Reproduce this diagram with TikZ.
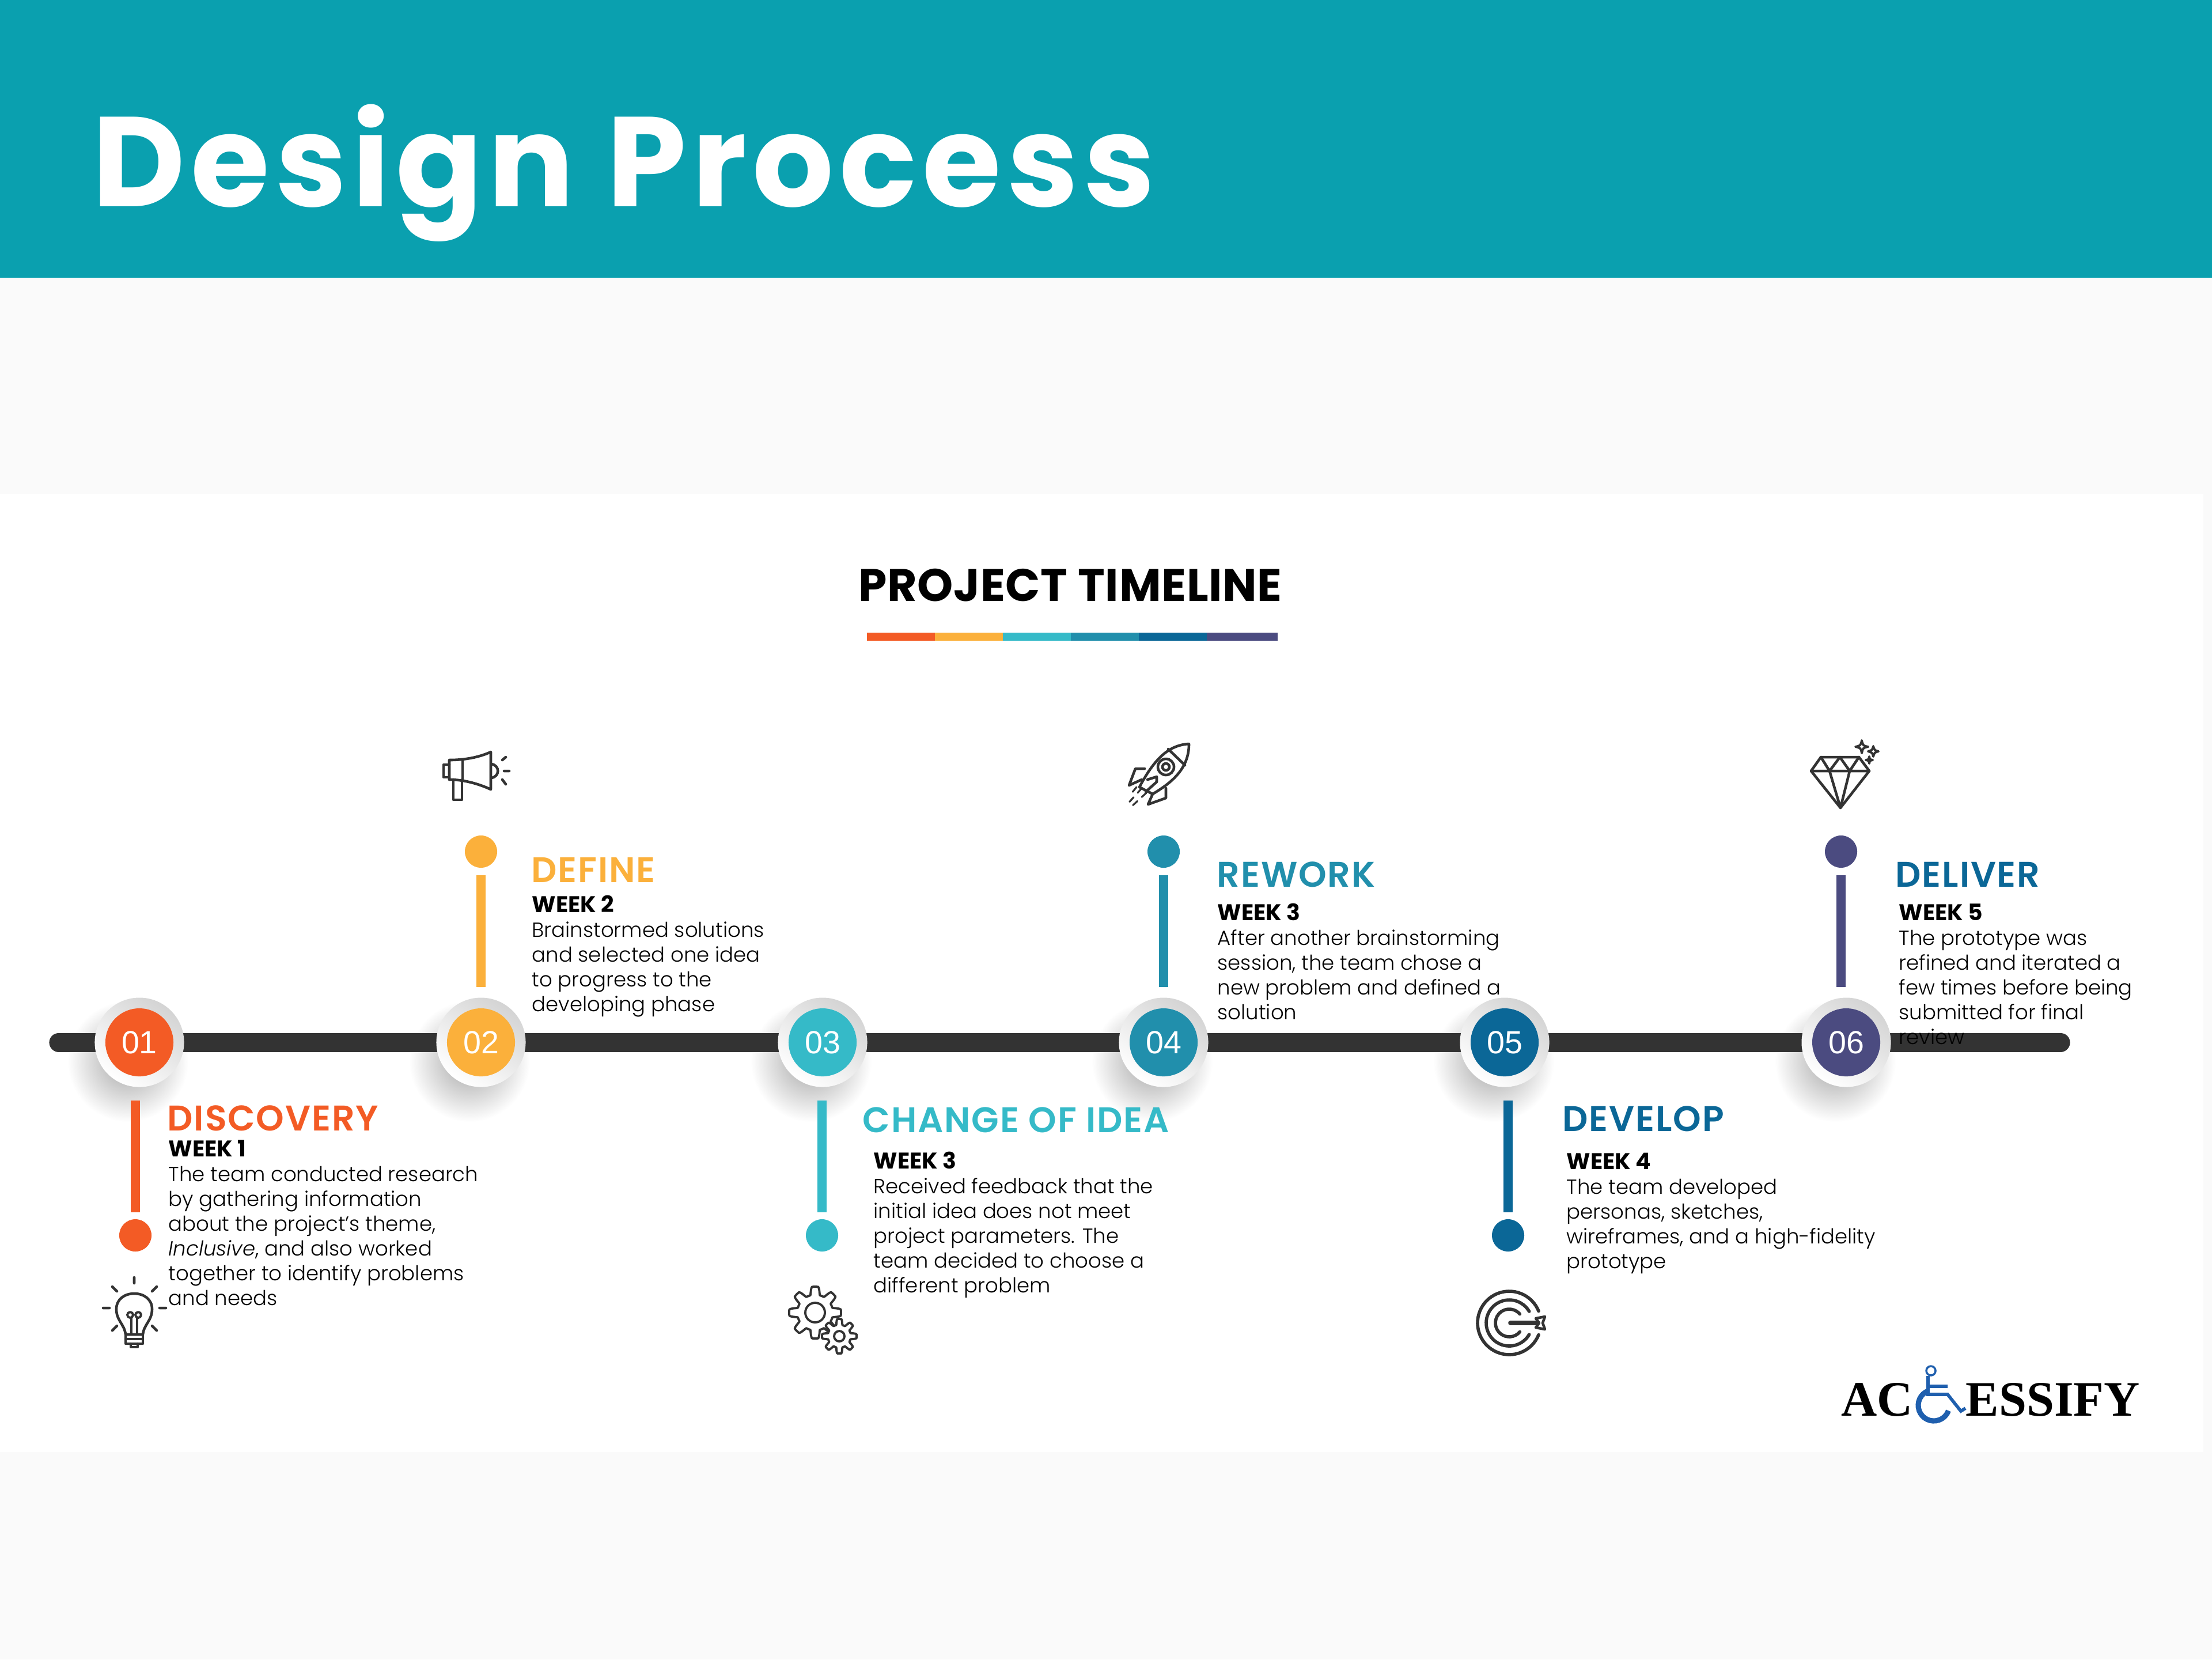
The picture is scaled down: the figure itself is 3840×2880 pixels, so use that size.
\documentclass[tikz,border=0pt]{standalone}
\usepackage{fontspec}
\usepackage{xcolor}
\setmainfont{Poppins Light}[BoldFont={Poppins Bold},ItalicFont={Poppins Light Italic}]
\newfontfamily\headfont{Poppins SemiBold}[LetterSpace=3]
\newfontfamily\titlefont{Poppins Bold}[LetterSpace=4.5]
\newfontfamily\capsfont{Poppins Bold}[LetterSpace=1]
\newfontfamily\armfont{Liberation Sans}
\newfontfamily\logofont{Liberation Serif}
\usetikzlibrary{positioning, calc}

\definecolor{headerteal}{HTML}{0AA0AF}
\definecolor{pagegray}{HTML}{FAFAFA}
\definecolor{railgray}{HTML}{333333}
\definecolor{stepA}{HTML}{F35B25}
\definecolor{stepB}{HTML}{FBB03B}
\definecolor{stepC}{HTML}{35BAC8}
\definecolor{stepD}{HTML}{218FAC}
\definecolor{stepE}{HTML}{0B6797}
\definecolor{stepF}{HTML}{4B4B80}
\definecolor{logoblue}{HTML}{1F5FAE}

\tikzset{
  ring/.style={circle, minimum size=1.55cm, inner sep=0pt, top color=black!17, bottom color=white, shading angle=-35},
  badge/.style={circle, minimum size=1.18cm, inner sep=0pt, text=white, font=\armfont\fontsize{15.8}{17}\selectfont},
  dot/.style={circle, minimum size=0.56cm, inner sep=0pt},
  stem/.style={line width=4.4pt},
  heading/.style={anchor=base west, inner sep=0pt, font=\headfont\fontsize{17.6}{19}\selectfont},
  blurb/.style={anchor=base west, inner sep=0pt, align=left, text=black, font=\fontsize{10.1}{12.23}\selectfont},
  iconline/.style={draw=railgray, line width=1.3pt, line join=round, line cap=round},
  soft/.style={inner color=black!36, outer color=white}
}
\newcommand{\weekline}[1]{\textbf{\fontsize{11.2}{12.23}\selectfont #1}}

\begin{document}
\begin{tikzpicture}[x=0.01cm, y=-0.01cm]

    % Page, header band and white panel
    \fill[pagegray] (0,0) rectangle (3840,2880);
    \fill[headerteal] (0,0) rectangle (3840,482);
    \fill[white] (0,857) rectangle (3825,2520);
    \node[anchor=base west, inner sep=0pt, text=white, font=\titlefont\fontsize{63}{70}\selectfont] (title) at (160,358) {Design Process};

    % Timeline heading with its colour bar
    \node[anchor=base, inner sep=0pt, font=\capsfont\fontsize{22.5}{24}\selectfont] (timeline) at (1858,1043) {PROJECT TIMELINE};
    \fill[stepA] (1505,1098) rectangle (1623,1112);
    \fill[stepB] (1623,1098) rectangle (1741,1112);
    \fill[stepC] (1741,1098) rectangle (1859,1112);
    \fill[stepD] (1859,1098) rectangle (1977,1112);
    \fill[stepE] (1977,1098) rectangle (2095,1112);
    \fill[stepF] (2095,1098) rectangle (2218,1112);

    % Soft shadows under the badges
    \shade[soft] (222,1842) circle (105);
    \shade[soft] (815,1842) circle (105);
    \shade[soft] (1408,1842) circle (105);
    \shade[soft] (2000,1842) circle (105);
    \shade[soft] (2593,1842) circle (105);
    \shade[soft] (3186,1842) circle (105);

    % Main rail
    \coordinate (railL) at (102,1809);
    \coordinate (railR) at (3577,1809);
    \draw[railgray, line width=9.4pt, line cap=round] (railL) -- (railR);

    % Numbered badges on the rail
    \node[ring] (ring1) at (242,1809) {};
    \node[ring] (ring2) at (835,1809) {};
    \node[ring] (ring3) at (1428,1809) {};
    \node[ring] (ring4) at (2020,1809) {};
    \node[ring] (ring5) at (2612,1809) {};
    \node[ring] (ring6) at (3205,1809) {};
    \node[badge, fill=stepA] (badge1) at (ring1) {01};
    \node[badge, fill=stepB] (badge2) at (ring2) {02};
    \node[badge, fill=stepC] (badge3) at (ring3) {03};
    \node[badge, fill=stepD] (badge4) at (ring4) {04};
    \node[badge, fill=stepE] (badge5) at (ring5) {05};
    \node[badge, fill=stepF] (badge6) at (ring6) {06};

    % Stems and their end dots
    \node[dot, fill=stepA] (dot1) at (235,2144) {};
    \node[dot, fill=stepB] (dot2) at (835,1478) {};
    \node[dot, fill=stepC] (dot3) at (1427,2144) {};
    \node[dot, fill=stepD] (dot4) at (2020,1478) {};
    \node[dot, fill=stepE] (dot5) at (2618,2144) {};
    \node[dot, fill=stepF] (dot6) at (3196,1478) {};
    \coordinate (stem1a) at (235,1910);
    \coordinate (stem1b) at (235,2104);
    \coordinate (stem2a) at (835,1519);
    \coordinate (stem2b) at (835,1713);
    \coordinate (stem3a) at (1427,1910);
    \coordinate (stem3b) at (1427,2104);
    \coordinate (stem4a) at (2020,1519);
    \coordinate (stem4b) at (2020,1713);
    \coordinate (stem5a) at (2618,1910);
    \coordinate (stem5b) at (2618,2104);
    \coordinate (stem6a) at (3196,1519);
    \coordinate (stem6b) at (3196,1713);
    \draw[stem, stepA] (stem1a) -- (stem1b);
    \draw[stem, stepB] (stem2a) -- (stem2b);
    \draw[stem, stepC] (stem3a) -- (stem3b);
    \draw[stem, stepD] (stem4a) -- (stem4b);
    \draw[stem, stepE] (stem5a) -- (stem5b);
    \draw[stem, stepF] (stem6a) -- (stem6b);

    % Step titles
    \node[heading, text=stepA] (discovery) at (290,1962) {DISCOVERY};
    \node[heading, text=stepB] (define) at (922,1531) {DEFINE};
    \node[heading, text=stepC] (change) at (1497,1965) {CHANGE OF IDEA};
    \node[heading, text=stepD] (rework) at (2112,1539) {REWORK};
    \node[heading, text=stepE] (develop) at (2712,1963) {DEVELOP};
    \node[heading, text=stepE] (deliver) at (3290,1539) {DELIVER};

    % Step texts
    \node[blurb] (text1) at (292,2265) {\weekline{WEEK 1}\\The team conducted research\\by gathering information\\about the project’s theme,\\\textit{Inclusive}, and also worked\\together to identify problems\\and needs};
    \node[blurb] (text2) at (923,1755) {\weekline{WEEK 2}\\Brainstormed solutions\\and selected one idea\\to progress to the\\developing phase};
    \node[blurb] (text3) at (1516,2243) {\weekline{WEEK 3}\\Received feedback that the\\initial idea does not meet\\project parameters. The\\team decided to choose a\\different problem};
    \node[blurb] (text4) at (2113,1769) {\weekline{WEEK 3}\\After another brainstorming\\session, the team chose a\\new problem and defined a\\solution};
    \node[blurb] (text5) at (2719,2201) {\weekline{WEEK 4}\\The team developed\\personas, sketches,\\wireframes, and a high-fidelity\\prototype};
    \node[blurb] (text6) at (3296,1812) {\weekline{WEEK 5}\\The prototype was\\refined and iterated a\\few times before being\\submitted for final\\review};

    % Light bulb icon
    \draw[iconline] (218,2316) .. controls (216,2298) and (202,2292) .. (202,2272) .. controls (202,2255) and (216,2245) .. (233,2245) .. controls (250,2245) and (264,2255) .. (264,2272) .. controls (264,2292) and (250,2298) .. (248,2316) -- cycle;
    \draw[iconline, line width=1.1pt] (226,2282) circle (5) (240,2282) circle (5) (228,2316) -- (228,2287) (238,2316) -- (238,2287);
    \draw[iconline] (218,2316) rectangle (248,2332) (218,2324) -- (248,2324) (227,2332) -- (227,2338) -- (239,2338) -- (239,2332);
    \draw[iconline] (233,2217) -- (233,2227) (179,2270) -- (190,2270) (277,2270) -- (288,2270) (195,2233) -- (203,2241) (272,2233) -- (264,2241) (195,2309) -- (203,2301) (272,2309) -- (264,2301);

    % Megaphone icon
    \draw[iconline] (852,1305) .. controls (830,1315) and (805,1319) .. (780,1319) -- (780,1353) .. controls (805,1353) and (830,1360) .. (852,1370) -- cycle;
    \draw[iconline] (780,1327) -- (770,1327) -- (770,1349) -- (780,1349) (803,1319) -- (803,1353) (787,1353) -- (787,1388) -- (802,1388) -- (802,1353);
    \draw[iconline] (853,1326) .. controls (868,1328) and (868,1348) .. (853,1350);
    \draw[iconline] (872,1319) -- (878,1314) (875,1338) -- (884,1338) (872,1353) -- (878,1361);

    % Rocket icon
    \draw[iconline] (2064,1291) .. controls (2030,1293) and (2005,1315) .. (1978,1366) -- (2001,1378) .. controls (2040,1355) and (2064,1330) .. (2064,1291) -- cycle;
    \draw[iconline] (2028,1300) -- (2057,1328);
    \draw[iconline] (2024,1331) circle (14) (2024,1331) circle (6);
    \draw[iconline] (1987,1334) -- (1971,1334) -- (1960,1363) -- (1982,1353);
    \draw[iconline] (2024,1368) -- (2024,1385) -- (1993,1396) -- (2001,1378);
    \draw[iconline] (1992,1353) -- (2008,1348) -- (2008,1357) -- (1989,1374);
    \draw[iconline, line width=0.9pt, dashed] (1982,1368) -- (1955,1398) (1990,1376) -- (1964,1400) (1973,1366) -- (1960,1382);

    % Gear icon
    \draw[iconline, line width=1.1pt, fill=white, shift={(1415,2278)}] plot[domain=0:360, samples=161, smooth] (\x:{38+7*max(-1,min(1,2*cos(8*\x)))}) -- cycle;
    \draw[iconline, line width=1.1pt] (1415,2278) circle (17);
    \draw[iconline, line width=1.1pt, fill=white, shift={(1457,2319)}] plot[domain=0:360, samples=161, smooth] (\x:{25+5*max(-1,min(1,2*cos(8*\x)))}) -- cycle;
    \draw[iconline, line width=1.1pt] (1457,2319) circle (9);

    % Target icon
    \draw[iconline, line width=1.6pt, shift={(2620,2296)}] (22:55) arc (22:338:55) (30:40) arc (30:330:40) (40:24) arc (40:320:24);
    \draw[iconline, line width=2.2pt] (2622,2296) -- (2668,2296);
    \draw[iconline, fill=white] (2666,2288) -- (2682,2285) -- (2678,2296) -- (2682,2307) -- (2666,2304) -- (2672,2296) -- cycle;

    % Diamond icon
    \draw[iconline] (3161,1314) -- (3227,1314) -- (3245,1338) -- (3195,1402) -- (3144,1338) -- cycle;
    \draw[iconline] (3144,1338) -- (3245,1338) (3161,1314) -- (3176,1338) -- (3194,1314) -- (3211,1338) -- (3227,1314) (3176,1338) -- (3195,1402) -- (3211,1338);
    \draw[iconline, line width=1.1pt, shift={(3232,1296)}] (0,-11) .. controls (2,-2) .. (11,0) .. controls (2,2) .. (0,11) .. controls (-2,2) .. (-11,0) .. controls (-2,-2) .. (0,-11);
    \draw[iconline, line width=1.1pt, shift={(3252,1304)}] (0,-9) .. controls (2,-2) .. (9,0) .. controls (2,2) .. (0,9) .. controls (-2,2) .. (-9,0) .. controls (-2,-2) .. (0,-9);
    \draw[iconline, line width=1.1pt, shift={(3245,1319)}] (0,-6) .. controls (1,-1) .. (6,0) .. controls (1,1) .. (0,6) .. controls (-1,1) .. (-6,0) .. controls (-1,-1) .. (0,-6);

    % Logo
    \node[anchor=base west, inner sep=0pt, font=\logofont\bfseries\fontsize{24.5}{26}\selectfont] (logoA) at (3196,2457) {AC};
    \node[anchor=base west, inner sep=0pt, font=\logofont\bfseries\fontsize{24.5}{26}\selectfont] (logoB) at (3412,2457) {ESSIFY};
    \draw[logoblue, line width=2.6pt] (3357,2439) ++(-110:27) arc (-110:-340:27);
    \draw[logoblue, line width=1pt] (3352,2379) circle (8);
    \draw[logoblue, line width=1.6pt] (3347,2388) -- (3347,2420) -- (3381,2420) -- (3404,2449) -- (3412,2444) (3347,2406) -- (3381,2406);

\end{tikzpicture}
\end{document}
